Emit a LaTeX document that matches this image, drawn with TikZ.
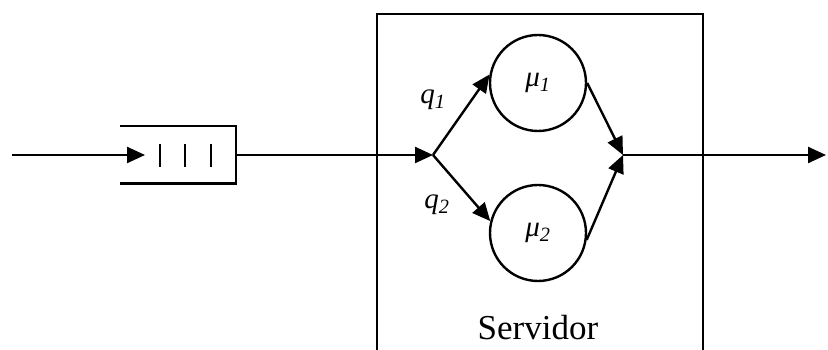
\documentclass[tikz,border=0pt]{standalone}
\usepackage{fontspec}
\setmainfont{Liberation Serif}
\usepackage{tikz}
\usetikzlibrary{arrows.meta, positioning, calc}

\tikzset{
    flow/.style={line width=2.4pt, -{Triangle[length=18pt, width=16pt]}},
    station/.style={draw, circle, minimum size=96pt, line width=2.4pt, inner sep=0pt,
        font=\fontsize{29}{32}\selectfont\itshape},
    lbl/.style={font=\fontsize{29}{32}\selectfont\itshape}
}

\begin{document}
\begin{tikzpicture}[x=1pt, y=1pt]
    \useasboundingbox (0,0) rectangle (828,350);

    % Entry, queue and exit points
    \coordinate (in) at (12,195);
    \coordinate (qin) at (145,195);
    \node[minimum width=116pt, minimum height=57pt, inner sep=0pt] (queue) at (178,195) {};
    \coordinate (split) at (433,195);
    \coordinate (merge) at (623,195);
    \coordinate (out) at (826,195);

    % Queue (open on the left)
    \draw[line width=2.4pt] (queue.north west) -- (queue.north east)
        -- (queue.south east) -- (queue.south west);
    \foreach \x in {160,185,211} {
        \draw[line width=2.4pt] (\x,183) -- (\x,206);
    }
    \draw[flow] (in) -- (qin);

    % Server box
    \draw[line width=2.4pt] (377,0) -- (377,336) -- (703,336) -- (703,0);
    \node[font=\fontsize{35}{40}\selectfont] (server) at (538,22) {Servidor};

    % Service stations
    \node[station] (mu1) at (538,267) {μ\textsubscript{1}};
    \node[station] (mu2) at (538,117) {μ\textsubscript{2}};
    \node[lbl] (q1) at (433,250) {q\textsubscript{1}};
    \node[lbl] (q2) at (437,145) {q\textsubscript{2}};

    % Routing
    \draw[flow] (queue.east) -- (split);
    \draw[flow] (split) -- (mu1.170);
    \draw[flow] (split) -- (mu2.166);
    \draw[flow] (mu1.0) -- (merge);
    \draw[flow] (mu2.352) -- (merge);
    \draw[flow] (merge) -- (out);
\end{tikzpicture}
\end{document}
